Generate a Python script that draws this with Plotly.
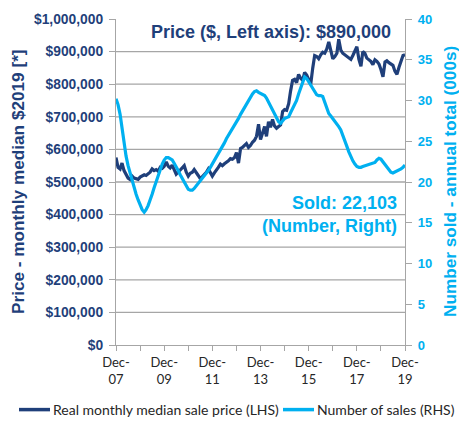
import plotly.graph_objects as go
import pandas as pd

NAVY = "#1F3F7A"
CYAN = "#00B0F0"
GRID = "#A6A6A6"

# Monthly, Dec-2007 .. Dec-2019
months = pd.date_range("2007-12-01", "2019-12-01", freq="MS")

# Real monthly median sale price, $000 (2019 dollars)
price_k = [575,
    545, 540, 558, 535, 525, 512, 508, 518, 512, 510, 508, 515,   # 2008
    518, 522, 520, 526, 530, 540, 535, 538, 533, 545, 542, 548,   # 2009
    562, 548, 543, 552, 540, 524, 530, 536, 544, 550, 530, 518,   # 2010
    527, 530, 538, 530, 520, 510, 516, 524, 530, 540, 528, 518,   # 2011
    528, 535, 545, 555, 550, 556, 560, 565, 572, 570, 575, 590,   # 2012
    558, 603, 606, 614, 618, 606, 612, 622, 628, 640, 677, 630,   # 2013
    655, 670, 640, 685, 668, 692, 672, 665, 670, 675, 716, 722,   # 2014
    720, 740, 778, 812, 815, 805, 830, 818, 812, 836, 828, 815,   # 2015
    800, 850, 888, 885, 878, 890, 898, 895, 908, 930, 902, 878,   # 2016
    885, 895, 938, 905, 895, 890, 885, 880, 876, 888, 905, 915,   # 2017
    876, 855, 900, 895, 880, 876, 870, 860, 875, 870, 862, 845,   # 2018
    823, 868, 872, 866, 862, 858, 840, 830, 852, 868, 888, 890]   # 2019
price = [v * 1000 for v in price_k]

# Number of sales, annual total (000s)
sales = [30.2,
    29.5, 28.3, 26.5, 24.8, 23.2, 22.0, 21.1, 20.2, 19.3, 18.5, 17.8, 17.1,
    16.6, 16.3, 16.6, 17.1, 17.7, 18.5, 19.3, 20.1, 20.9, 21.6, 22.2, 22.7,
    23.0, 23.0, 22.9, 22.7, 22.3, 21.9, 21.4, 20.9, 20.4, 19.9, 19.4, 19.1,
    19.0, 19.0, 19.2, 19.5, 19.8, 20.1, 20.4, 20.8, 21.1, 21.4, 21.8, 22.2,
    22.6, 23.0, 23.4, 23.9, 24.3, 24.8, 25.3, 25.7, 26.1, 26.5, 27.0, 27.4,
    27.8, 28.3, 28.7, 29.1, 29.5, 29.9, 30.4, 30.8, 31.1, 31.2, 31.0, 30.9,
    30.8, 30.6, 30.3, 29.8, 29.4, 28.9, 28.4, 27.9, 27.4, 27.2, 27.5, 27.8,
    27.9, 28.0, 28.5, 29.0, 29.5, 30.0, 30.8, 31.5, 32.3, 32.9, 32.7, 32.3,
    31.8, 31.4, 31.0, 30.7, 30.6, 30.6, 30.5, 29.8, 29.0, 28.4, 28.1, 27.8,
    27.5, 27.2, 26.8, 26.4, 25.8, 25.2, 24.4, 23.7, 23.1, 22.6, 22.2, 21.9,
    21.8, 21.8, 21.9, 22.0, 22.1, 22.2, 22.2, 22.3, 22.4, 22.7, 22.9, 22.8,
    22.5, 22.2, 21.9, 21.5, 21.2, 21.1, 21.2, 21.3, 21.4, 21.6, 21.8, 22.1]

x_tickvals = ["2007-12-01", "2008-12-01", "2009-12-01", "2010-12-01", "2011-12-01",
              "2012-12-01", "2013-12-01", "2014-12-01", "2015-12-01", "2016-12-01",
              "2017-12-01", "2018-12-01", "2019-12-01"]
x_ticktext = ["Dec-<br>07", "", "Dec-<br>09", "", "Dec-<br>11", "", "Dec-<br>13", "",
              "Dec-<br>15", "", "Dec-<br>17", "", "Dec-<br>19"]

y_tickvals = [0, 100000, 200000, 300000, 400000, 500000, 600000, 700000, 800000, 900000, 1000000]
y_ticktext = ["$0", "$100,000", "$200,000", "$300,000", "$400,000", "$500,000",
              "$600,000", "$700,000", "$800,000", "$900,000", "$1,000,000"]
y2_tickvals = [0, 5, 10, 15, 20, 25, 30, 35, 40]

series_names = ["Real monthly median sale price (LHS)", "Number of sales (RHS)"]
title_text = "Price ($, Left axis): $890,000"
sold_text = "Sold: 22,103<br>(Number, Right)"


def px_x(p):
    return (p - 116) / 289.0


def px_y(p):
    return (345 - p) / 328.0


fig = go.Figure()
fig.add_trace(go.Scatter(x=months, y=price, mode="lines", name=series_names[0],
                         line=dict(color=NAVY, width=3.2), yaxis="y"))
fig.add_trace(go.Scatter(x=months, y=sales, mode="lines", name=series_names[1],
                         line=dict(color=CYAN, width=3.2), yaxis="y2"))

shapes = []
for v in y_tickvals[1:-1]:
    shapes.append(dict(type="line", xref="paper", x0=0, x1=1, yref="y", y0=v, y1=v,
                       line=dict(color=GRID, width=1.3), layer="below"))

# manual legend
leg_y = px_y(410)
shapes.append(dict(type="line", xref="paper", yref="paper", x0=px_x(19), x1=px_x(50),
                   y0=leg_y, y1=leg_y, line=dict(color=NAVY, width=3.5)))
shapes.append(dict(type="line", xref="paper", yref="paper", x0=px_x(283), x1=px_x(314),
                   y0=leg_y, y1=leg_y, line=dict(color=CYAN, width=3.5)))

legend_font = dict(family="Lato", size=14, color="#262626")

fig.update_layout(
    width=459, height=423,
    margin=dict(l=116, r=54, t=17, b=78),
    paper_bgcolor="white", plot_bgcolor="white",
    showlegend=False,
    xaxis=dict(type="date", range=["2007-12-01", "2019-12-01"],
               tickmode="array", tickvals=x_tickvals, ticktext=x_ticktext,
               ticks="outside", ticklen=5, tickcolor=GRID, tickwidth=1.3,
               showline=True, linecolor=GRID, linewidth=1.3, showgrid=False, zeroline=False,
               tickfont=dict(family="Lato", size=13, color="#262626")),
    yaxis=dict(range=[0, 1000000], tickmode="array", tickvals=y_tickvals, ticktext=y_ticktext,
               ticks="outside", ticklen=6, tickcolor=GRID, tickwidth=1.3,
               showline=True, linecolor=GRID, linewidth=1.3, showgrid=False, zeroline=False,
               ticklabelstandoff=3,
               tickfont=dict(family="Liberation Sans", size=13.8, color=NAVY, weight="bold")),
    yaxis2=dict(range=[0, 40], overlaying="y", side="right", tickmode="array", tickvals=y2_tickvals,
                ticks="outside", ticklen=6, tickcolor=GRID, tickwidth=1.3,
                showline=True, linecolor=GRID, linewidth=1.3, showgrid=False, zeroline=False,
                ticklabelstandoff=3,
                tickfont=dict(family="Liberation Sans", size=13, color=CYAN, weight="bold")),
    shapes=shapes,
    annotations=[
        dict(text=title_text, xref="paper", yref="paper", x=px_x(271), y=px_y(30),
             xanchor="center", yanchor="middle", showarrow=False,
             font=dict(family="Liberation Sans", size=18, color=NAVY, weight="bold")),
        dict(text=sold_text, xref="paper", yref="paper", x=px_x(399), y=px_y(214),
             xanchor="right", yanchor="middle", align="right", showarrow=False,
             font=dict(family="Liberation Sans", size=18, color=CYAN, weight="bold")),
        dict(text="Price - monthly median $2019 [*]", xref="paper", yref="paper",
             x=px_x(18), y=px_y(181), xanchor="center", yanchor="middle", textangle=-90,
             showarrow=False,
             font=dict(family="Liberation Sans", size=17.2, color=NAVY, weight="bold")),
        dict(text="Number sold - annual total (000s)", xref="paper", yref="paper",
             x=px_x(450), y=px_y(181), xanchor="center", yanchor="middle", textangle=-90,
             showarrow=False,
             font=dict(family="Liberation Sans", size=17.2, color=CYAN, weight="bold")),
        dict(text=series_names[0], xref="paper", yref="paper", x=px_x(51), y=leg_y,
             xanchor="left", yanchor="middle", showarrow=False, font=legend_font),
        dict(text=series_names[1], xref="paper", yref="paper", x=px_x(315), y=leg_y,
             xanchor="left", yanchor="middle", showarrow=False, font=legend_font),
    ],
)

fig.write_html("out.html")
